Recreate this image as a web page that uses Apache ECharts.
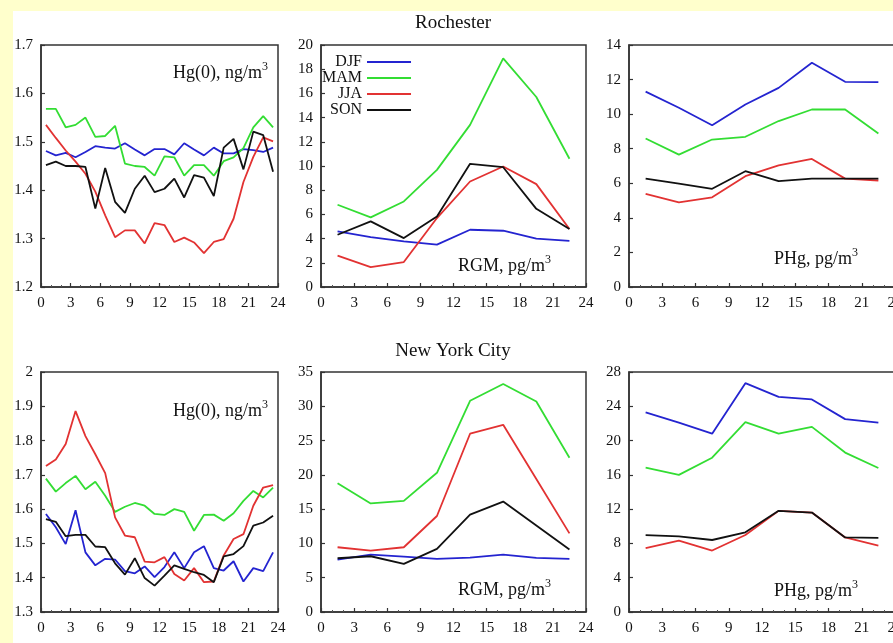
<!DOCTYPE html>
<html>
<head>
<meta charset="utf-8">
<script src="https://cdn.jsdelivr.net/npm/echarts@6/dist/echarts.min.js"></script>
<style>html,body{margin:0;padding:0;background:#fff}#c{width:893px;height:643px}</style>
</head>
<body>
<div id="c"></div>
<script>
// ---------- data ----------
const seasons = ['DJF', 'MAM', 'JJA', 'SON'];
const xTicks = [0, 3, 6, 9, 12, 15, 18, 21, 24];
const hoursHourly = [0.5,1.5,2.5,3.5,4.5,5.5,6.5,7.5,8.5,9.5,10.5,11.5,12.5,13.5,14.5,15.5,16.5,17.5,18.5,19.5,20.5,21.5,22.5,23.5];
const hours3h = [1.5,4.5,7.5,10.5,13.5,16.5,19.5,22.5];

// Rochester Hg(0), ng/m3
const rocHg0_DJF = [1.481,1.472,1.477,1.468,1.479,1.491,1.488,1.486,1.497,1.484,1.472,1.485,1.485,1.474,1.497,1.484,1.472,1.488,1.476,1.476,1.485,1.483,1.479,1.488];
const rocHg0_MAM = [1.568,1.568,1.530,1.535,1.550,1.510,1.512,1.533,1.455,1.450,1.448,1.430,1.470,1.468,1.430,1.452,1.452,1.430,1.460,1.468,1.487,1.530,1.553,1.530];
const rocHg0_JJA = [1.535,1.508,1.482,1.459,1.434,1.397,1.348,1.303,1.317,1.317,1.290,1.332,1.328,1.293,1.302,1.292,1.270,1.293,1.299,1.341,1.417,1.469,1.509,1.501];
const rocHg0_SON = [1.452,1.459,1.450,1.450,1.448,1.362,1.446,1.376,1.353,1.403,1.430,1.396,1.403,1.424,1.385,1.431,1.426,1.388,1.488,1.506,1.443,1.521,1.514,1.438];

// Rochester RGM, pg/m3
const rocRGM_DJF = [4.60,4.13,3.77,3.50,4.73,4.65,4.00,3.82];
const rocRGM_MAM = [6.80,5.75,7.07,9.68,13.40,18.90,15.70,10.60];
const rocRGM_JJA = [2.60,1.65,2.06,5.70,8.72,9.96,8.50,4.80];
const rocRGM_SON = [4.32,5.42,4.04,5.83,10.18,9.90,6.46,4.80];

// Rochester PHg, pg/m3
const rocPHg_DJF = [11.30,10.37,9.36,10.56,11.52,12.97,11.87,11.85];
const rocPHg_MAM = [8.59,7.66,8.53,8.69,9.60,10.27,10.27,8.88];
const rocPHg_JJA = [5.39,4.90,5.19,6.41,7.03,7.41,6.27,6.16];
const rocPHg_SON = [6.27,5.98,5.68,6.70,6.12,6.27,6.27,6.27];

// New York City Hg(0), ng/m3
const nycHg0_DJF = [1.586,1.547,1.498,1.597,1.474,1.436,1.455,1.453,1.419,1.413,1.433,1.402,1.431,1.474,1.428,1.474,1.492,1.428,1.421,1.448,1.389,1.428,1.419,1.474];
const nycHg0_MAM = [1.689,1.651,1.676,1.697,1.658,1.680,1.639,1.592,1.607,1.618,1.610,1.586,1.583,1.600,1.592,1.537,1.583,1.584,1.566,1.588,1.624,1.653,1.634,1.663];
const nycHg0_JJA = [1.726,1.745,1.790,1.886,1.813,1.760,1.705,1.576,1.523,1.518,1.447,1.445,1.460,1.411,1.392,1.428,1.387,1.389,1.465,1.513,1.527,1.610,1.663,1.670];
const nycHg0_SON = [1.571,1.563,1.521,1.525,1.525,1.491,1.489,1.442,1.409,1.457,1.399,1.377,1.406,1.436,1.426,1.416,1.408,1.387,1.462,1.469,1.492,1.552,1.561,1.581];

// New York City RGM, pg/m3
const nycRGM_DJF = [7.65,8.37,8.08,7.74,7.94,8.37,7.90,7.74];
const nycRGM_MAM = [18.78,15.83,16.20,20.30,30.80,33.25,30.70,22.50];
const nycRGM_JJA = [9.44,8.95,9.44,14.00,26.00,27.30,19.40,11.47];
const nycRGM_SON = [7.84,8.13,7.02,9.20,14.20,16.10,12.60,9.10];

// New York City PHg, pg/m3
const nycPHg_DJF = [23.30,22.10,20.80,26.70,25.10,24.80,22.50,22.10];
const nycPHg_MAM = [16.85,16.00,18.00,22.15,20.80,21.60,18.60,16.80];
const nycPHg_JJA = [7.44,8.33,7.17,8.98,11.80,11.60,8.70,7.75];
const nycPHg_SON = [8.98,8.83,8.40,9.30,11.80,11.60,8.70,8.64];

// y-axis ranges (min, max, interval)
const yRanges = [[1.2,1.7,0.1],[0,20,2],[0,14,2],[1.3,2.0,0.1],[0,35,5],[0,28,4]];

// ---------- styling / layout ----------
const FONT = 'Liberation Serif';
const colors = {DJF:'#2424d0', MAM:'#33dd33', JJA:'#e23232', SON:'#111111'};
const grids = [
  {left:41,  top:45,  width:237, height:242},
  {left:321, top:45,  width:265, height:242},
  {left:629, top:45,  width:266, height:242},
  {left:41,  top:372, width:237, height:240},
  {left:321, top:372, width:265, height:240},
  {left:629, top:372, width:266, height:240}
];
const panels = [
  {hours:hoursHourly, d:[rocHg0_DJF,rocHg0_MAM,rocHg0_JJA,rocHg0_SON], dec:true},
  {hours:hours3h, d:[rocRGM_DJF,rocRGM_MAM,rocRGM_JJA,rocRGM_SON]},
  {hours:hours3h, d:[rocPHg_DJF,rocPHg_MAM,rocPHg_JJA,rocPHg_SON]},
  {hours:hoursHourly, d:[nycHg0_DJF,nycHg0_MAM,nycHg0_JJA,nycHg0_SON], dec:true},
  {hours:hours3h, d:[nycRGM_DJF,nycRGM_MAM,nycRGM_JJA,nycRGM_SON]},
  {hours:hours3h, d:[nycPHg_DJF,nycPHg_MAM,nycPHg_JJA,nycPHg_SON]}
];

const axisLineStyle = {color:'#333', width:1.5};
const labelStyle = {fontFamily:FONT, fontSize:15, color:'#111'};

const option = {
  backgroundColor:'#ffffff',
  animation:false,
  grid: grids.map(g => Object.assign({show:true, borderColor:'#333', borderWidth:1.5, backgroundColor:'transparent', containLabel:false, outerBoundsMode:'none'}, g)),
  xAxis: grids.map((g,i) => ({
    type:'value', gridIndex:i, min:xTicks[0], max:xTicks[xTicks.length-1], interval:xTicks[1]-xTicks[0],
    axisLine:{show:true, onZero:false, lineStyle:axisLineStyle},
    axisTick:{show:true, inside:true, length:4, lineStyle:{color:'#333', width:1.2}},
    minorTick:{show:true, splitNumber:3, length:2, lineStyle:{color:'#555', width:1}},
    splitLine:{show:false},
    axisLabel:Object.assign({margin:9, showMinLabel:true, showMaxLabel:true, hideOverlap:false}, labelStyle)
  })),
  yAxis: yRanges.map((r,i) => ({
    type:'value', gridIndex:i, min:r[0], max:r[1], interval:r[2],
    axisLine:{show:true, onZero:false, lineStyle:axisLineStyle},
    axisTick:{show:true, inside:true, length:4, lineStyle:{color:'#333', width:1.2}},
    splitLine:{show:false},
    axisLabel:Object.assign({margin:8, formatter: panels[i].dec ? (v => String(Math.round(v*10)/10)) : null}, labelStyle)
  })),
  legend:{
    data:seasons, orient:'vertical', left:322, top:54, align:'right', padding:0,
    icon:'rect', itemWidth:44, itemHeight:2, itemGap:0,
    textStyle:{fontFamily:FONT, fontSize:16, color:'#111'}
  },
  series:[],
  graphic:[
    {type:'rect', shape:{x:0,y:0,width:13,height:643}, style:{fill:'#FFFFCC'}, silent:true},
    {type:'rect', shape:{x:0,y:0,width:893,height:11}, style:{fill:'#FFFFCC'}, silent:true}
  ]
};

panels.forEach((p,i) => {
  seasons.forEach((s,k) => {
    option.series.push({
      name:s, type:'line', xAxisIndex:i, yAxisIndex:i, symbol:'none',
      lineStyle:{color:colors[s], width:1.8}, itemStyle:{color:colors[s]},
      data:p.hours.map((h,j) => [h, p.d[k][j]])
    });
  });
});

function title(txt, x, y) {
  return {type:'text', x:x, y:y, style:{text:txt, font:'19px "'+FONT+'"', fill:'#111', align:'center', verticalAlign:'middle'}};
}
function unitLabel(main, xRight, y) {
  return {type:'text', x:xRight, y:y, style:{
    text:'{a|'+main+'}{s|3}', align:'right', verticalAlign:'middle',
    rich:{a:{fontFamily:FONT, fontSize:18, fill:'#111', lineHeight:24}, s:{fontFamily:FONT, fontSize:12, fill:'#111', lineHeight:12, verticalAlign:'top'}}
  }};
}
option.graphic.push(
  title('Rochester', 453, 23),
  title('New York City', 453, 351),
  unitLabel('Hg(0), ng/m', 268, 73),
  unitLabel('RGM, pg/m', 551, 266),
  unitLabel('PHg, pg/m', 858, 259),
  unitLabel('Hg(0), ng/m', 268, 411),
  unitLabel('RGM, pg/m', 551, 590),
  unitLabel('PHg, pg/m', 858, 591)
);

const chart = echarts.init(document.getElementById('c'), null, {renderer:'canvas'});
chart.setOption(option);
</script>
</body>
</html>
